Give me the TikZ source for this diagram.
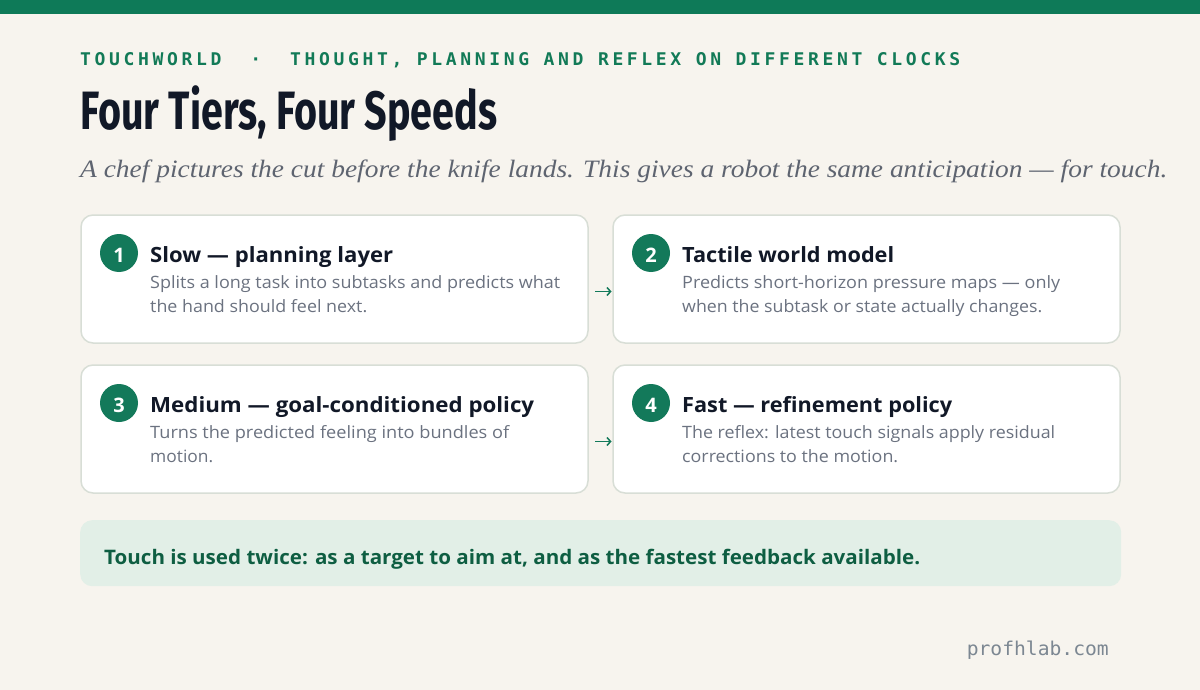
\documentclass[tikz,border=0pt]{standalone}
\usepackage{fontspec}
\usepackage{graphicx}
\usetikzlibrary{arrows.meta}
\setmainfont{Open Sans}
\newfontfamily\hdrfont[LetterSpace=20]{DejaVu Sans Mono}
\newfontfamily\monofont{DejaVu Sans Mono}
\newfontfamily\ttlfont{Fira Sans}
\newfontfamily\subfont{Liberation Serif}
\definecolor{bg}{HTML}{F7F4EE}
\definecolor{topbar}{HTML}{0E7A58}
\definecolor{hdrgreen}{HTML}{127A57}
\definecolor{badgegreen}{HTML}{13795A}
\definecolor{ink}{HTML}{111827}
\definecolor{muted}{HTML}{6B7280}
\definecolor{subgray}{HTML}{5E6470}
\definecolor{cardline}{HTML}{D8DED6}
\definecolor{calloutbg}{HTML}{E2EFE7}
\definecolor{callouttext}{HTML}{0E5E42}
\definecolor{footgray}{HTML}{7C8792}
\newcommand\fitto[2]{\resizebox{#1}{\height}{#2}}
\tikzset{
  card/.style={draw=cardline, line width=1.5pt, fill=white, rounded corners=12pt,
    minimum width=507pt, minimum height=128pt, inner sep=0pt, outer sep=0pt, anchor=north west},
  badge/.style={circle, fill=badgegreen, minimum size=38pt, inner sep=0pt},
  num/.style={text=white, font=\bfseries\fontsize{20}{20}\selectfont, inner sep=0pt},
  ctitle/.style={anchor=base west, inner sep=0pt, text=ink, font=\bfseries\fontsize{21}{21}\selectfont},
  cdesc/.style={anchor=base west, inner sep=0pt, text=muted, font=\fontsize{17}{17}\selectfont},
  flow/.style={draw=badgegreen, line width=1.5pt, -{Straight Barb[length=3.5pt,width=8pt]}},
  txt/.style={inner sep=0pt}
}
\begin{document}
\begin{tikzpicture}[x=1pt,y=-1pt]
\useasboundingbox (0,0) rectangle (1200,690);
\fill[bg] (0,0) rectangle (1200,690);
\fill[topbar] (0,0) rectangle (1200,14);

% header
\node[txt, anchor=base west, text=hdrgreen] (hdr) at (80,66)
  {\fitto{880pt}{\hdrfont\bfseries\fontsize{17.5}{17.5}\selectfont TOUCHWORLD\ \ ·\ \ THOUGHT, PLANNING AND REFLEX ON DIFFERENT CLOCKS}};
\node[txt, anchor=base west, text=ink] (title) at (80,130)
  {\fitto{417pt}{\ttlfont\bfseries\fontsize{54}{54}\selectfont Four Tiers, Four Speeds}};
\node[txt, anchor=base west, text=subgray] (sub) at (80,178)
  {\fitto{1087pt}{\subfont\itshape\fontsize{25}{25}\selectfont A chef pictures the cut before the knife lands. This gives a robot the same anticipation — for touch.}};

% cards
\node[card] (c1) at (81,215) {};
\node[card] (c2) at (613,215) {};
\node[card] (c3) at (81,365) {};
\node[card] (c4) at (613,365) {};

% badges
\node[badge] (b1) at (119,253) {};
\node[num, yshift=-2pt] (n1) at (b1) {1};
\node[badge] (b2) at (651,253) {};
\node[num, yshift=-2pt] (n2) at (b2) {2};
\node[badge] (b3) at (119,403) {};
\node[num, yshift=-2pt] (n3) at (b3) {3};
\node[badge] (b4) at (651,403) {};
\node[num, yshift=-2pt] (n4) at (b4) {4};

% card 1
\node[ctitle] (t1) at (150,262) {\fitto{243pt}{Slow — planning layer}};
\node[cdesc] (d1a) at (150,288) {\fitto{410pt}{Splits a long task into subtasks and predicts what}};
\node[cdesc] (d1b) at (150,312) {\fitto{217pt}{the hand should feel next.}};
% card 2
\node[ctitle] (t2) at (682,262) {\fitto{212pt}{Tactile world model}};
\node[cdesc] (d2a) at (682,288) {\fitto{378pt}{Predicts short-horizon pressure maps — only}};
\node[cdesc] (d2b) at (682,312) {\fitto{360pt}{when the subtask or state actually changes.}};
% card 3
\node[ctitle] (t3) at (150,412) {\fitto{384pt}{Medium — goal-conditioned policy}};
\node[cdesc] (d3a) at (150,438) {\fitto{359pt}{Turns the predicted feeling into bundles of}};
\node[cdesc] (d3b) at (150,462) {\fitto{63pt}{motion.}};
% card 4
\node[ctitle] (t4) at (682,412) {\fitto{270pt}{Fast — refinement policy}};
\node[cdesc] (d4a) at (682,438) {\fitto{373pt}{The reflex: latest touch signals apply residual}};
\node[cdesc] (d4b) at (682,462) {\fitto{216pt}{corrections to the motion.}};

% arrows
\draw[flow] ([xshift=7pt,yshift=-12.5pt]c1.east) -- ([xshift=-1.5pt,yshift=-12.5pt]c2.west);
\draw[flow] ([xshift=7pt,yshift=-12.5pt]c3.east) -- ([xshift=-1.5pt,yshift=-12.5pt]c4.west);

% callout
\node[fill=calloutbg, rounded corners=12pt, minimum width=1041pt, minimum height=66pt,
  inner sep=0pt, anchor=north west] (co) at (80,520) {};
\node[txt, anchor=base west, text=callouttext, font=\bfseries\fontsize{20}{20}\selectfont] (cot) at (104,564)
  {\fitto{816pt}{Touch is used twice: as a target to aim at, and as the fastest feedback available.}};

% footer
\node[txt, anchor=base east, text=footgray] (foot) at (1109,655)
  {\fitto{142pt}{\monofont\fontsize{19}{19}\selectfont profhlab.com}};
\end{tikzpicture}
\end{document}
